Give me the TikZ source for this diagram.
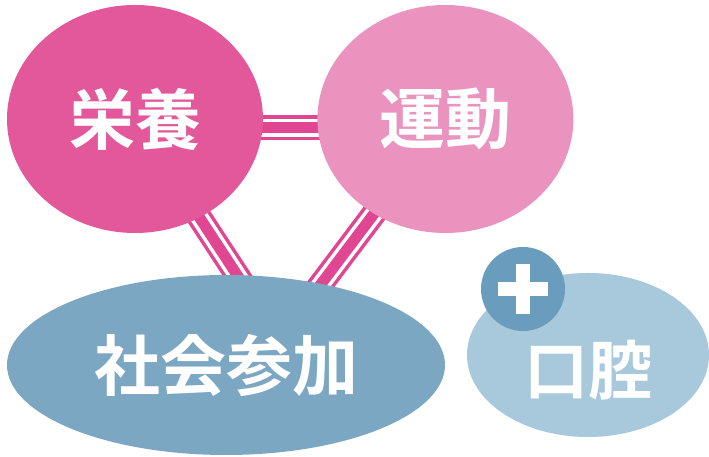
\documentclass[tikz,border=0pt]{standalone}
\usepackage{fontspec}
\usepackage{xcolor}
\usepackage{tikz}
\usetikzlibrary{shapes,positioning,calc,backgrounds}
\newfontfamily\cjk{Noto Sans CJK JP}[BoldFont={Noto Sans CJK JP Bold}]
\definecolor{eiyoupink}{RGB}{227,88,154}
\definecolor{undoupink}{RGB}{234,147,191}
\definecolor{shakaiblue}{RGB}{124,167,195}
\definecolor{koukublue}{RGB}{168,200,220}
\definecolor{plusblue}{RGB}{106,156,190}
\definecolor{bandpink}{RGB}{224,70,145}

\begin{document}
\begin{tikzpicture}[
    x=1pt, y=1pt,
    blob/.style={ellipse, inner sep=0pt, text=white, font=\cjk\bfseries\fontsize{66}{70}\selectfont},
    word/.style={text=white, font=\cjk\bfseries\fontsize{64}{68}\selectfont},
    band/.style={draw=bandpink, line width=25pt, postaction={draw=white, line width=18pt}, postaction={draw=bandpink, line width=11pt}}
]
    \useasboundingbox (0,0) rectangle (709,457);

    % Pink pair
    \node[blob, fill=eiyoupink, minimum width=256pt, minimum height=228pt] (eiyou) at (135,338) {栄養};
    \node[blob, fill=undoupink, minimum width=256pt, minimum height=228pt, right=54pt of eiyou] (undou) {運動};

    % Blue pair
    \node[blob, fill=shakaiblue, minimum width=438pt, minimum height=180pt] (shakai) at (226,92) {社会参加};
    \node[blob, fill=koukublue, minimum width=242pt, minimum height=164pt] (kouku) at (588,102) {};
    \node[word] at ([yshift=-15pt]kouku.center) {口腔};
    \node[circle, fill=plusblue, minimum size=84pt, inner sep=0pt] (plus) at (523,168) {};
    \draw[white, line width=14pt] (plus) ++(-25,0) -- ++(50,0);
    \draw[white, line width=14pt] (plus) ++(0,-25) -- ++(0,50);

    \begin{scope}[on background layer]
        \draw[band] ([yshift=-9pt]eiyou.center) -- ([yshift=-9pt]undou.center);
        \draw[band] (eiyou.center) -- ([xshift=70pt]shakai.center);
        \draw[band] (undou.center) -- ([xshift=34pt]shakai.center);
    \end{scope}
\end{tikzpicture}
\end{document}
